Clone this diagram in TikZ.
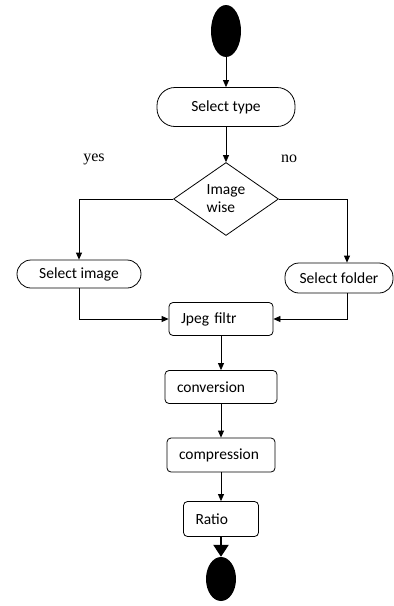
\documentclass[tikz,border=0pt]{standalone}
\usepackage{fontspec}
\setmainfont{Carlito}
\newfontfamily\answerfont{Liberation Serif}
\usetikzlibrary{shapes.geometric,arrows.meta}
\tikzstyle{startstop} = [rectangle, rounded corners=14pt, text centered, draw=black, line width=0.8pt]
\tikzstyle{process} = [rectangle, rounded corners=4pt, minimum height=33pt, align=left, inner xsep=12pt, draw=black, line width=0.8pt]
\tikzstyle{decision} = [diamond, aspect=1.44, minimum width=105pt, minimum height=73pt, inner sep=0pt, align=left, draw=black, line width=0.8pt]
\tikzstyle{terminal} = [ellipse, fill=black, minimum width=30pt, inner sep=0pt]
\tikzstyle{answer} = [font=\answerfont\fontsize{16}{18}\selectfont]
\tikzstyle{arrow} = [line width=0.8pt,-{Triangle[width=6pt,length=7pt]}]
\tikzstyle{bigarrow} = [line width=2.5pt,-{Triangle[width=15pt,length=12pt]}]

\begin{document}
\begin{tikzpicture}[x=1pt, y=-1pt, node distance=68pt, font=\fontsize{15.5}{18}\selectfont]
      \useasboundingbox (0,0) rectangle (394,606);
      \node (start)[terminal, minimum height=52pt] at (226,31) {};
      \node (type)[startstop, below of=start, yshift=-8pt, minimum width=138pt, minimum height=39pt, rounded corners=18pt]{Select type};
      \node (d1)[decision, below of=type, yshift=-24pt]{Image\\wise};
      \node (yes)[answer, left of=d1, xshift=-64pt, yshift=40pt]{yes};
      \node (no)[answer, right of=d1, xshift=-5pt, yshift=40pt]{no};
      \node (img)[startstop, left of=d1, xshift=-79pt, yshift=-75pt, minimum width=124pt, minimum height=28pt]{Select image};
      \node (folder)[startstop, right of=d1, xshift=45pt, yshift=-79pt, minimum width=108pt, minimum height=30pt]{Select folder};
      \node (jpeg)[process, below of=d1, xshift=-5pt, yshift=-52pt, text width=80pt]{Jpeg filtr};
      \node (conv)[process, below of=jpeg, text width=88pt]{conversion};
      \node (comp)[process, below of=conv, text width=84pt, minimum height=34pt]{compression};
      \node (ratio)[process, below of=comp, yshift=4pt, text width=51pt, minimum height=35pt]{Ratio};
      \node (stop)[terminal, below of=ratio, yshift=8pt, minimum height=44pt]{};
      \draw [arrow](start)--(type);
      \draw [arrow](type)--(d1);
      \draw [arrow](d1.west) -| (img.north);
      \draw [arrow](d1.east) -| ([xshift=8pt]folder.north);
      \draw [arrow](img.south) |- (jpeg.west);
      \draw [arrow]([xshift=8pt]folder.south) |- (jpeg.east);
      \draw [arrow](jpeg)--(conv);
      \draw [arrow](conv)--(comp);
      \draw [arrow](comp)--(ratio);
      \draw [bigarrow](ratio)--(stop);
    \end{tikzpicture}
\end{document}
